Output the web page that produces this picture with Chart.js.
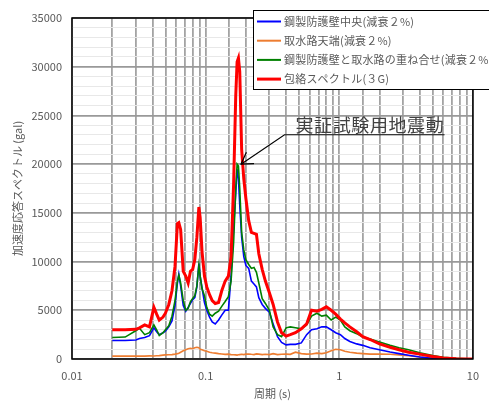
<!DOCTYPE html>
<html>
<head>
<meta charset="utf-8">
<script src="https://cdn.jsdelivr.net/npm/chart.js@4.4.0/dist/chart.umd.min.js"></script>
<style>
  body { margin: 0; background: #fff; }
  #wrap { width: 489px; height: 403px; position: relative; }
</style>
</head>
<body>
<div id="wrap"><canvas id="myChart"></canvas></div>
<script>
// period (s)
const periods = [0.02, 0.025, 0.03, 0.032, 0.035, 0.038, 0.041, 0.043, 0.045, 0.048, 0.05, 0.053, 0.056, 0.059, 0.0615, 0.063, 0.065, 0.068, 0.071, 0.074, 0.077, 0.08, 0.083, 0.086, 0.089, 0.091, 0.094, 0.098, 0.102, 0.107, 0.112, 0.118, 0.125, 0.132, 0.14, 0.148, 0.155, 0.162, 0.168, 0.172, 0.176, 0.18, 0.186, 0.193, 0.2, 0.21, 0.22, 0.23, 0.24, 0.25, 0.265, 0.28, 0.3, 0.32, 0.345, 0.37, 0.4, 0.43, 0.47, 0.52, 0.57, 0.62, 0.68, 0.74, 0.8, 0.87, 0.94, 1.02, 1.1, 1.2, 1.35, 1.5, 1.7, 2.0, 2.4, 2.8, 3.3, 4.0, 5.0, 6.0, 7.5, 10];

// 鋼製防護壁中央
const wallCenter = [1900, 1900, 1950, 2100, 2200, 2400, 3200, 2800, 2500, 2700, 2850, 3300, 3900, 5500, 7800, 8700, 7500, 5500, 4900, 5300, 5700, 6100, 6300, 7400, 9800, 8500, 7300, 5800, 5000, 4300, 3800, 3600, 4000, 4500, 5000, 5000, 8500, 13500, 17000, 19500, 18500, 15800, 12500, 10500, 9600, 9300, 8000, 7700, 7400, 6300, 5600, 5200, 4800, 3600, 2300, 1700, 1450, 1500, 1500, 1650, 2500, 3000, 3100, 3300, 3300, 3000, 2700, 2500, 2100, 1800, 1550, 1400, 1150, 950, 720, 550, 380, 200, 80, 30, 10, 0];

// 取水路天端
const intakeTop = [300, 300, 300, 310, 300, 320, 310, 330, 350, 400, 420, 430, 450, 500, 550, 600, 700, 850, 950, 1050, 1100, 1050, 1150, 1200, 1150, 1000, 950, 850, 800, 700, 650, 600, 550, 520, 480, 500, 450, 430, 420, 400, 430, 450, 480, 450, 500, 520, 480, 450, 520, 500, 450, 480, 450, 550, 450, 480, 500, 480, 700, 550, 500, 520, 600, 550, 650, 850, 1000, 950, 800, 700, 600, 550, 500, 520, 480, 420, 330, 200, 100, 50, 20, 0];

// 鋼製防護壁と取水路の重ね合せ
const combined = [2200, 2250, 2900, 3150, 2500, 2700, 3500, 3000, 2400, 2700, 3000, 3400, 4400, 6000, 8000, 8600, 7800, 6000, 5000, 5200, 5900, 6200, 6500, 7500, 9600, 8500, 7200, 6500, 5300, 4600, 4400, 4700, 4900, 5400, 5900, 6400, 8000, 12000, 17500, 20000, 19800, 17500, 13000, 11200, 10200, 9700, 9300, 9400, 8900, 7800, 6200, 5700, 5000, 3300, 2500, 2300, 3200, 3300, 3200, 3100, 3500, 4400, 4700, 4400, 4500, 4000, 4300, 4000, 3300, 2900, 2600, 2250, 2050, 1750, 1400, 1150, 950, 650, 350, 180, 60, 0];

// 包絡スペクトル(3G)
const envelope = [3000, 3000, 3050, 3200, 3500, 3300, 5300, 4600, 4000, 4300, 4700, 5600, 7000, 9500, 13900, 14000, 13300, 9000, 8500, 7800, 9000, 9200, 10200, 12500, 15600, 14500, 11000, 8500, 7400, 6600, 6000, 5700, 5800, 7000, 8000, 8500, 10500, 18000, 27000, 30500, 30900, 29500, 21500, 18500, 16500, 14200, 13000, 12900, 12800, 10800, 9200, 8000, 6800, 5600, 3800, 2700, 2350, 2500, 2700, 3100, 3600, 5000, 4900, 5100, 5350, 5000, 4600, 4100, 3700, 3300, 2800, 2300, 2000, 1550, 1200, 950, 700, 500, 250, 100, 30, 0];

const seriesNames = ['鋼製防護壁中央(減衰２%)', '取水路天端(減衰２%)', '鋼製防護壁と取水路の重ね合せ(減衰２%)', '包絡スペクトル(３G)'];
const seriesColors = ['#0000ff', '#ed7d31', '#008000', '#ff0000'];
const seriesWidths = [1.6, 1.6, 1.6, 3];
const xTickLabels = [0.01, 0.1, 1, 10];
const yMajorStep = 5000;

const allSeries = [wallCenter, intakeTop, combined, envelope];
const drawOrder = [2, 3, 1, 0];

Chart.defaults.font.family = '"Noto Sans CJK JP", "Noto Sans", sans-serif';
Chart.defaults.font.size = 11;
Chart.defaults.color = '#595959';

function toPoints(vals) {
  return periods.map(function (p, i) { return { x: p, y: vals[i] }; });
}

const datasets = allSeries.map(function (vals, i) {
  return {
    label: seriesNames[i],
    data: toPoints(vals),
    borderColor: seriesColors[i],
    backgroundColor: seriesColors[i],
    borderWidth: seriesWidths[i],
    pointRadius: 0,
    tension: 0,
    order: drawOrder[i]
  };
});

function isDecade(v) {
  const l = Math.log10(v);
  return Math.abs(l - Math.round(l)) < 1e-6;
}

// black frame around plot area
const frame = {
  id: 'frame',
  afterDatasetsDraw(chart) {
    const a = chart.chartArea, ctx = chart.ctx;
    ctx.save();
    ctx.strokeStyle = '#000';
    ctx.lineWidth = 1.5;
    ctx.strokeRect(a.left, a.top, a.right - a.left, a.bottom - a.top);
    ctx.restore();
  }
};

// legend box + annotation arrow
const extras = {
  id: 'extras',
  afterDraw(chart) {
    const ctx = chart.ctx;
    ctx.save();
    // legend
    const bx = 253, by = 10, bw = 260, bh = 79;
    ctx.fillStyle = '#fff';
    ctx.fillRect(bx, by, bw, bh);
    ctx.strokeStyle = '#000';
    ctx.lineWidth = 1;
    ctx.strokeRect(bx + 0.5, by + 0.5, bw, bh);
    ctx.font = '11px "Noto Sans CJK JP", sans-serif';
    ctx.textBaseline = 'middle';
    seriesNames.forEach(function (name, i) {
      const ry = 21.5 + i * 19.2;
      ctx.strokeStyle = seriesColors[i];
      ctx.lineWidth = i === 3 ? 3 : 2;
      ctx.beginPath();
      ctx.moveTo(257, ry);
      ctx.lineTo(281, ry);
      ctx.stroke();
      ctx.fillStyle = '#595959';
      ctx.letterSpacing = '0.2px';
      ctx.fillText(name, 284, ry);
    });
    ctx.letterSpacing = '0px';

    // annotation
    const xs = chart.scales.x, ys = chart.scales.y;
    const tipX = xs.getPixelForValue(0.184), tipY = ys.getPixelForValue(20000);
    const elbowX = tipX + 43.5, elbowY = tipY - 29.4;
    ctx.strokeStyle = '#000';
    ctx.lineWidth = 1.2;
    ctx.beginPath();
    ctx.moveTo(elbowX + 160, elbowY);
    ctx.lineTo(elbowX, elbowY);
    ctx.lineTo(tipX, tipY);
    ctx.stroke();
    const ang = Math.atan2(elbowY - tipY, elbowX - tipX);
    ctx.beginPath();
    ctx.moveTo(tipX + 13 * Math.cos(ang - 0.55), tipY + 13 * Math.sin(ang - 0.55));
    ctx.lineTo(tipX, tipY);
    ctx.lineTo(tipX + 13 * Math.cos(ang + 0.55), tipY + 13 * Math.sin(ang + 0.55));
    ctx.stroke();
    ctx.fillStyle = '#404040';
    ctx.font = '18px "Noto Sans CJK JP", sans-serif';
    ctx.textBaseline = 'alphabetic';
    ctx.letterSpacing = '0.6px';
    ctx.fillText('実証試験用地震動', elbowX + 11, elbowY - 3);
    ctx.restore();
  }
};

new Chart(document.getElementById('myChart'), {
  type: 'line',
  data: { datasets: datasets },
  options: {
    responsive: true,
    maintainAspectRatio: false,
    animation: false,
    layout: { padding: { left: 0, right: 12, top: 18, bottom: 0 } },
    plugins: { legend: { display: false }, tooltip: { enabled: false } },
    scales: {
      x: {
        type: 'logarithmic',
        min: 0.01,
        max: 10,
        afterFit: function (s) { s.height = 44; },
        grid: { color: '#a3a3a3', lineWidth: 1.8, drawTicks: false },
        border: { display: false },
        ticks: {
          autoSkip: false,
          maxRotation: 0,
          padding: 10,
          callback: function (v) {
            if (!isDecade(v)) return '';
            const hit = xTickLabels.find(function (t) { return Math.abs(t - v) / t < 1e-6; });
            return hit === undefined ? '' : String(hit);
          }
        },
        title: { display: true, text: '周期 (s)', padding: { top: 0, bottom: 3 } }
      },
      y: {
        min: 0,
        max: 35000,
        afterFit: function (s) { s.width = 72; },
        grid: {
          drawTicks: false,
          color: function (c) { return c.tick.value % yMajorStep === 0 ? '#999999' : '#e8e8e8'; },
          lineWidth: function (c) { return c.tick.value % yMajorStep === 0 ? 1.8 : 1; }
        },
        border: { display: false },
        ticks: {
          stepSize: 1000,
          autoSkip: false,
          padding: 10,
          callback: function (v) { return v % yMajorStep === 0 ? String(v) : ''; }
        },
        title: { display: true, text: '加速度応答スペクトル (gal)', padding: { top: 11, bottom: 0 } }
      }
    }
  },
  plugins: [frame, extras]
});
</script>
</body>
</html>
